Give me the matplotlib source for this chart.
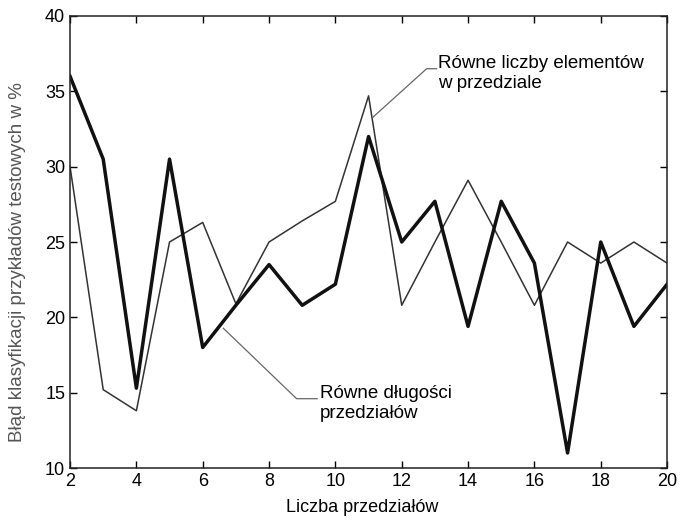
import numpy as np
import matplotlib
matplotlib.use("Agg")
import matplotlib.pyplot as plt

plt.rcParams['font.family'] = ['Liberation Sans', 'DejaVu Sans']

# liczba przedziałów
x = [2, 3, 4, 5, 6, 7, 8, 9, 10, 11, 12, 13, 14, 15, 16, 17, 18, 19, 20]

# równe długości przedziałów (gruba linia)
equal_width = [36.0, 30.5, 15.3, 30.5, 18.0, 20.8, 23.5, 20.8, 22.2, 32.0,
               25.0, 27.7, 19.4, 27.7, 23.6, 11.0, 25.0, 19.4, 22.2]

# równe liczby elementów w przedziale (cienka linia)
equal_count = [30.0, 15.2, 13.8, 25.0, 26.3, 20.9, 25.0, 26.4, 27.7, 34.7,
               20.8, 25.0, 29.1, 25.0, 20.8, 25.0, 23.6, 25.0, 23.6]

fig = plt.figure(figsize=(6.8, 5.21), dpi=100)
ax = fig.add_axes([0.103, 0.1017, 0.878, 0.8676])

ax.plot(x, equal_count, color='#333333', lw=1.1)
ax.plot(x, equal_width, color='#111111', lw=2.5)

ax.set_xlim(2, 20)
ax.set_ylim(10, 40)
ax.set_xticks(range(2, 21, 2))
ax.set_yticks(range(10, 41, 5))
ax.tick_params(direction='in', length=5, top=True, right=True,
               labelsize=13, width=1)
for s in ax.spines.values():
    s.set_linewidth(1.1)
    s.set_color('#222222')

ax.set_xlabel('Liczba przedziałów', fontsize=13)
ax.xaxis.set_label_coords(0.49, -0.069)
ax.set_ylabel('Błąd klasyfikacji przykładów testowych w %', fontsize=13.5,
              color='#555555')
ax.yaxis.set_label_coords(-0.074, 0.456)

# opisy z liniami odniesienia
ax.plot([11.14, 12.75, 13.05], [33.3, 36.5, 36.5], color='#666666', lw=0.9)
ax.text(13.1, 36.2, 'Równe liczby elementów\nw przedziale', fontsize=13.5,
        va='center', ha='left', linespacing=1.25)

ax.plot([6.62, 8.83, 9.45], [19.28, 14.6, 14.6], color='#666666', lw=0.9)
ax.text(9.54, 14.3, 'Równe długości\nprzedziałów', fontsize=13.5,
        va='center', ha='left', linespacing=1.25)

fig.savefig('out.png', dpi=100)
plt.close()
